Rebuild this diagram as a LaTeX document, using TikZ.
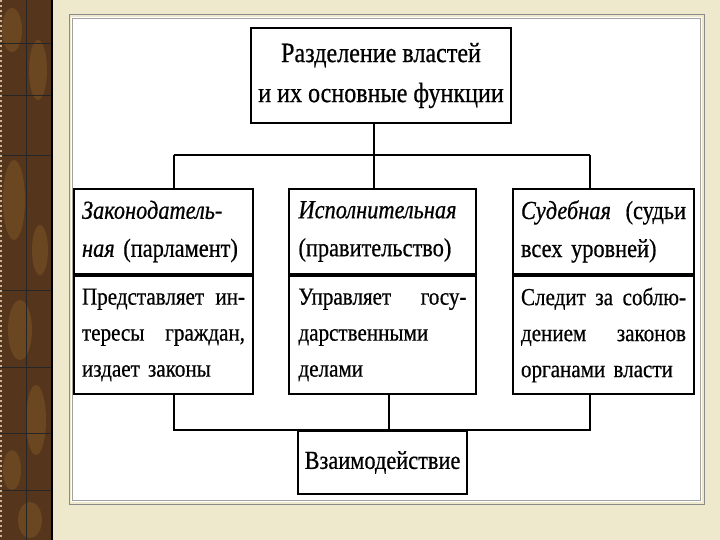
\documentclass[tikz,border=0pt]{standalone}
\usepackage{fontspec}
\setmainfont[FakeStretch=0.86,FakeBold=0.6]{Liberation Serif}
\usetikzlibrary{positioning}
\definecolor{SlideBeige}{HTML}{EEE8CC}
\definecolor{StripBrown}{HTML}{55361C}
\definecolor{StripOchre}{HTML}{9C6B2E}
\definecolor{FrameGray}{HTML}{8A8A8A}
\newcommand{\fullline}[1]{{\spaceskip=.25em plus 1fil\makebox[\hsize][s]{#1}}}

\begin{document}
\begin{tikzpicture}[x=1pt,y=-1pt,
  box/.style={draw,line width=2pt,fill=white,inner sep=0pt},
  titlebox/.style={box,align=center,font=\fontsize{28}{40}\selectfont},
  headbox/.style={box,minimum height=85pt,align=left,font=\fontsize{26}{38}\selectfont},
  bodybox/.style={box,minimum height=118pt,align=left,font=\fontsize{24.5}{36}\selectfont},
  link/.style={line width=1.8pt}]
  \useasboundingbox (0,0) rectangle (720,540);
  % slide background and left strip
  \fill[SlideBeige] (0,0) rectangle (720,540);
  \fill[StripBrown] (0,0) rectangle (52,540);
  \foreach \px/\py/\rx/\ry in {12/30/10/22,38/70/9/30,14/200/11/40,40/250/8/25,
      20/330/12/30,36/420/10/35,12/470/9/20,30/520/12/18}
    \fill[StripOchre,opacity=.3] (\px,\py) ellipse ({\rx} and {\ry});
  \draw[black!85,line width=.8pt] (26,0) -- (26,540);
  \foreach \yy in {43,95,155,290,367,433,490}
    \draw[black!85,line width=.8pt] (0,\yy) -- (52,\yy);
  \draw[StripOchre!50!white,line width=2pt,dash pattern=on 2pt off 3pt] (1,0) -- (1,540);
  \draw[black,line width=1.5pt] (52,0) -- (52,540);
  % picture frame
  \fill[white] (71,17) rectangle (702,502);
  \draw[FrameGray,line width=1pt] (69,15) rectangle (704,504);
  \draw[FrameGray!80,line width=.8pt] (72.5,18.5) rectangle (700.5,500.5);

  % boxes
  \node[titlebox,minimum width=260pt,minimum height=95pt,anchor=north west]
      (title) at (250,27) {Разделение властей\\и их основные функции};

  \node[headbox,minimum width=179pt,text width=163pt,anchor=north west]
      (lawhead) at (73,188) {\textit{Законодатель-}\\\textit{ная} (парламент)};
  \node[bodybox,minimum width=179pt,text width=163pt,below=0pt of lawhead]
      (lawbody) {\fullline{Представляет ин-}\\\fullline{тересы граждан,}\\издает законы};

  \node[headbox,minimum width=187pt,text width=168pt,anchor=north west]
      (exechead) at (288,188) {\textit{Исполнительная}\\(правительство)};
  \node[bodybox,minimum width=187pt,text width=168pt,below=0pt of exechead]
      (execbody) {\fullline{Управляет госу-}\\дарственными\\делами};

  \node[headbox,minimum width=181pt,text width=165pt,anchor=north west]
      (courthead) at (512,188) {\fullline{\textit{Судебная} (судьи}\\всех уровней)};
  \node[bodybox,minimum width=181pt,text width=165pt,below=0pt of courthead]
      (courtbody) {\fullline{Следит за соблю-}\\\fullline{дением законов}\\органами власти};

  \node[titlebox,minimum width=169pt,minimum height=63pt,anchor=north west,
      font=\fontsize{26}{36}\selectfont] (joint) at (297,430) {Взаимодействие};

  % connectors
  \coordinate (busL) at (174,155);
  \coordinate (busR) at (590,155);
  \coordinate (lowL) at (174,430);
  \coordinate (lowM) at (389,430);
  \coordinate (lowR) at (590,430);
  \draw[link] ([xshift=-7pt]title.south) -- ([xshift=-7pt]title.south |- busL);
  \draw[link] (busL) -- (busR);
  \draw[link] (busL) -- (busL |- lawhead.north);
  \draw[link] ([xshift=-7pt]title.south |- busL) -- ([xshift=-7pt]title.south |- exechead.north);
  \draw[link] (busR) -- (busR |- courthead.north);
  \draw[link] (lowL |- lawbody.south) -- (lowL) -- (lowR) -- (lowR |- courtbody.south);
  \draw[link] (lowM |- execbody.south) -- (lowM);
\end{tikzpicture}
\end{document}
